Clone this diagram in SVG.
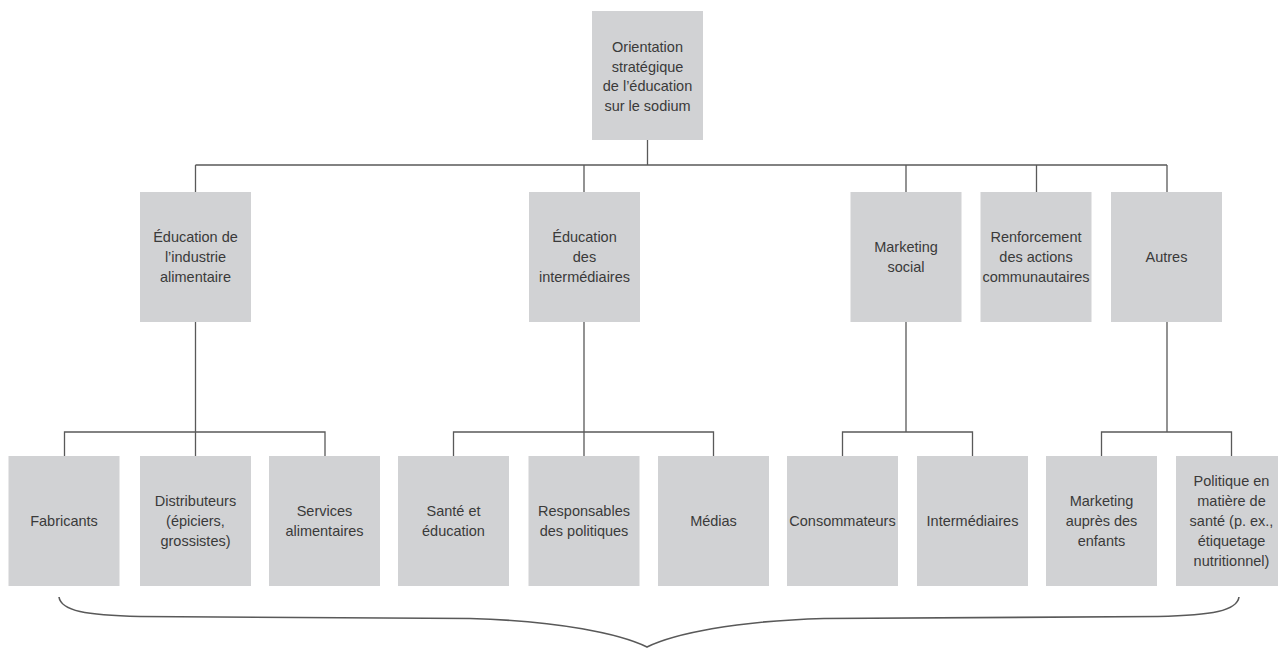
<svg xmlns="http://www.w3.org/2000/svg" width="1278" height="648" viewBox="0 0 1278 648">
  <style>
    .box { fill: #d1d2d4; }
    .lbl { font-family: "Liberation Sans", Arial, sans-serif; font-size: 14.5px; fill: #3a3a3a; text-anchor: middle; }
    .wire { fill: none; stroke: #595959; stroke-width: 1.3; }
  </style>
  <rect width="1278" height="648" fill="#ffffff"/>

  <!-- tree connectors -->
  <g id="connectors" class="wire">
    <path d="M647.5,140 V165 M195.5,165 H1167 M195.5,165 V192 M584,165 V192 M906,165 V192 M1036.5,165 V192 M1167,165 V192"/>
    <path d="M195.5,322 V456 M64.5,456 V432 H325 V456"/>
    <path d="M584,322 V456 M453.5,456 V432 H713.5 V456"/>
    <path d="M906,322 V432 M842.5,456 V432 H972.5 V456"/>
    <path d="M1167,322 V432 M1101.5,456 V432 H1231.5 V456"/>
    <!-- brace under the bottom row -->
    <path d="M59,597 C61,611 86,615 140,616.5 L470,618.5 C560,621 620,634 647,647 C674,634 734,621 824,618.5 L1158,616.5 C1212,615 1237,611 1239,597" stroke-width="1.6"/>
  </g>

  <g id="root">
    <rect class="box" x="592" y="11" width="111" height="129"/>
    <text class="lbl" x="647.5"><tspan x="647.5" y="52">Orientation</tspan><tspan x="647.5" y="71.5">stratégique</tspan><tspan x="647.5" y="91">de l’éducation</tspan><tspan x="647.5" y="110.5">sur le sodium</tspan></text>
  </g>

  <g id="industrie">
    <rect class="box" x="140" y="192" width="111" height="130"/>
    <text class="lbl"><tspan x="195.5" y="242">Éducation de</tspan><tspan x="195.5" y="262">l’industrie</tspan><tspan x="195.5" y="282">alimentaire</tspan></text>
  </g>
  <g id="intermediaires">
    <rect class="box" x="529" y="192" width="111" height="130"/>
    <text class="lbl"><tspan x="584.5" y="242">Éducation</tspan><tspan x="584.5" y="262">des</tspan><tspan x="584.5" y="282">intermédiaires</tspan></text>
  </g>
  <g id="marketing-social">
    <rect class="box" x="850.5" y="192" width="111" height="130"/>
    <text class="lbl"><tspan x="906" y="252">Marketing</tspan><tspan x="906" y="272">social</tspan></text>
  </g>
  <g id="renforcement">
    <rect class="box" x="980.5" y="192" width="111" height="130"/>
    <text class="lbl"><tspan x="1036" y="242">Renforcement</tspan><tspan x="1036" y="262">des actions</tspan><tspan x="1036" y="282">communautaires</tspan></text>
  </g>
  <g id="autres">
    <rect class="box" x="1111" y="192" width="111" height="130"/>
    <text class="lbl" x="1166.5" y="262">Autres</text>
  </g>

  <g id="fabricants">
    <rect class="box" x="8.5" y="456" width="111" height="130"/>
    <text class="lbl" x="64" y="526">Fabricants</text>
  </g>
  <g id="distributeurs">
    <rect class="box" x="140" y="456" width="111" height="130"/>
    <text class="lbl"><tspan x="195.5" y="506">Distributeurs</tspan><tspan x="195.5" y="526">(épiciers,</tspan><tspan x="195.5" y="546">grossistes)</tspan></text>
  </g>
  <g id="services">
    <rect class="box" x="269" y="456" width="111" height="130"/>
    <text class="lbl"><tspan x="324.5" y="516">Services</tspan><tspan x="324.5" y="536">alimentaires</tspan></text>
  </g>
  <g id="sante-education">
    <rect class="box" x="398" y="456" width="111" height="130"/>
    <text class="lbl"><tspan x="453.5" y="516">Santé et</tspan><tspan x="453.5" y="536">éducation</tspan></text>
  </g>
  <g id="responsables">
    <rect class="box" x="528.5" y="456" width="111" height="130"/>
    <text class="lbl"><tspan x="584" y="516">Responsables</tspan><tspan x="584" y="536">des politiques</tspan></text>
  </g>
  <g id="medias">
    <rect class="box" x="658" y="456" width="111" height="130"/>
    <text class="lbl" x="713.5" y="526">Médias</text>
  </g>
  <g id="consommateurs">
    <rect class="box" x="787" y="456" width="111" height="130"/>
    <text class="lbl" x="842.5" y="526">Consommateurs</text>
  </g>
  <g id="intermediaires-bas">
    <rect class="box" x="917" y="456" width="111" height="130"/>
    <text class="lbl" x="972.5" y="526">Intermédiaires</text>
  </g>
  <g id="marketing-enfants">
    <rect class="box" x="1046" y="456" width="111" height="130"/>
    <text class="lbl"><tspan x="1101.5" y="506">Marketing</tspan><tspan x="1101.5" y="526">auprès des</tspan><tspan x="1101.5" y="546">enfants</tspan></text>
  </g>
  <g id="politique-sante">
    <rect class="box" x="1176" y="456" width="111" height="130"/>
    <text class="lbl"><tspan x="1231.5" y="486">Politique en</tspan><tspan x="1231.5" y="506">matière de</tspan><tspan x="1231.5" y="526">santé (p. ex.,</tspan><tspan x="1231.5" y="546">étiquetage</tspan><tspan x="1231.5" y="566">nutritionnel)</tspan></text>
  </g>
</svg>
